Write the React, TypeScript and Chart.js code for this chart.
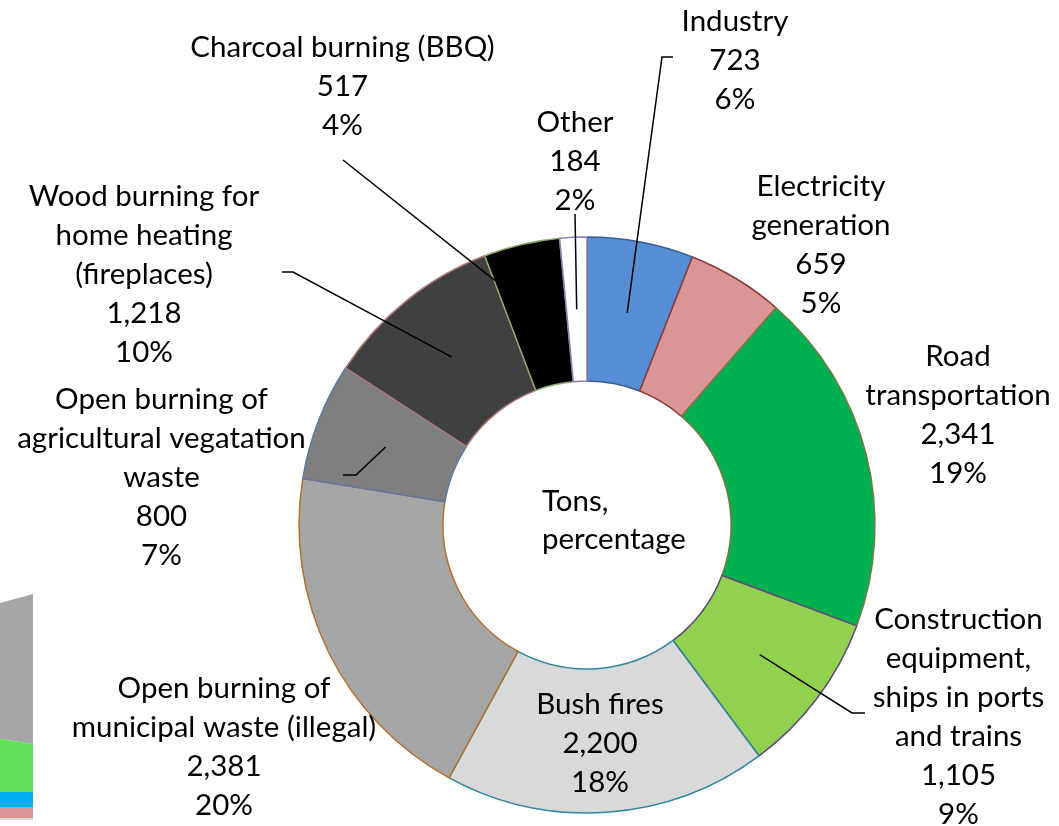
import React, { useEffect, useRef } from 'react';
import { Chart, registerables } from 'chart.js';

Chart.register(...registerables);

// ---------- Doughnut data ----------
const CATEGORIES = [
  'Industry',
  'Electricity generation',
  'Road transportation',
  'Construction equipment, ships in ports and trains',
  'Bush fires',
  'Open burning of municipal waste (illegal)',
  'Open burning of agricultural vegatation waste',
  'Wood burning for home heating (fireplaces)',
  'Charcoal burning (BBQ)',
  'Other',
];
const CATEGORY_LINES = [
  ['Industry'],
  ['Electricity', 'generation'],
  ['Road', 'transportation'],
  ['Construction', 'equipment,', 'ships in ports', 'and trains'],
  ['Bush fires'],
  ['Open burning of', 'municipal waste (illegal)'],
  ['Open burning of', 'agricultural vegatation', 'waste'],
  ['Wood burning for', 'home heating', '(fireplaces)'],
  ['Charcoal burning (BBQ)'],
  ['Other'],
];
const TONS = [723, 659, 2341, 1105, 2200, 2381, 800, 1218, 517, 184];
const CENTER_TEXT = ['Tons,', 'percentage'];

const FILL_COLORS = [
  '#558ED5', '#D99694', '#00B050', '#92D050', '#D9D9D9',
  '#A6A6A6', '#7F7F7F', '#404040', '#000000', '#FFFFFF',
];
const BORDER_COLORS = [
  '#3B5F8E', '#8C3B39', '#7A7A45', '#5F497A', '#31859C',
  '#B5702F', '#5A79A6', '#B07878', '#8FA870', '#8B7FAF',
];

// Label layout: offsets from the doughnut centre (px); leader points after the slice centroid
const LABEL_LAYOUT = [
  { x: 148, y: -505, leader: [[75, -468], [86, -468]] },
  { x: 234, y: -340, leader: [] },
  { x: 371, y: -170, leader: [] },
  { x: 371.5, y: 93, leader: [[265, 188], [278, 188]] },
  { x: 13, y: 178, leader: [] },
  { x: -363, y: 162, leader: [] },
  { x: -425.5, y: -127, leader: [[-231, -50], [-244, -50]] },
  { x: -443, y: -330, leader: [[-294, -253], [-305, -253]] },
  { x: -244.5, y: -479, leader: [[-244, -365]] },
  { x: -12, y: -404, leader: [[-12, -311]] },
];
const CENTER_TEXT_LAYOUT = { x: -45, y: -25 };

// ---------- Partial neighbouring chart (bottom-left fragment) ----------
const FRAG_X = [0, 1];
const FRAG_LIGHTGRAY = [2, 2];
const FRAG_PINK = [11, 11];
const FRAG_BLUE = [15, 15];
const FRAG_GREEN = [53, 48];
const FRAG_GRAY = [136, 150];
const FRAG_COLORS = ['#D9D9D9', '#D99694', '#00B0F0', '#63E05A', '#A6A6A6'];

const FONT_FAMILY = 'Lato, "Open Sans", sans-serif';
const FONT_SIZE = 29.5;
const LINE_H = 39;

const labelPlugin = {
  id: 'sliceLabels',
  afterDraw(chart: any) {
    const ctx = chart.ctx;
    const meta = chart.getDatasetMeta(0);
    const total = TONS.reduce((a, b) => a + b, 0);
    const first = meta.data[0];
    const cx = first.x;
    const cy = first.y;
    ctx.save();
    // leader lines
    ctx.strokeStyle = '#000';
    ctx.lineWidth = 1.5;
    LABEL_LAYOUT.forEach((lay, i) => {
      if (!lay.leader.length) return;
      const p = meta.data[i].tooltipPosition();
      ctx.beginPath();
      ctx.moveTo(p.x, p.y);
      lay.leader.forEach(([dx, dy]) => ctx.lineTo(cx + dx, cy + dy));
      ctx.stroke();
    });
    // labels
    ctx.fillStyle = '#000';
    ctx.font = `${FONT_SIZE}px ${FONT_FAMILY}`;
    ctx.textAlign = 'center';
    ctx.textBaseline = 'alphabetic';
    const capHalf = FONT_SIZE * 0.36;
    TONS.forEach((v, i) => {
      const lay = LABEL_LAYOUT[i];
      const lines = [
        ...CATEGORY_LINES[i],
        v.toLocaleString('en-US'),
        Math.round((v / total) * 100) + '%',
      ];
      lines.forEach((t, k) => {
        ctx.fillText(t, cx + lay.x, cy + lay.y + k * LINE_H + capHalf);
      });
    });
    ctx.textAlign = 'left';
    CENTER_TEXT.forEach((t, k) => {
      ctx.fillText(t, cx + CENTER_TEXT_LAYOUT.x, cy + CENTER_TEXT_LAYOUT.y + k * 38 + capHalf);
    });
    ctx.restore();
  },
};

export default function App() {
  const ref = useRef<HTMLCanvasElement | null>(null);
  const fragRef = useRef<HTMLCanvasElement | null>(null);

  useEffect(() => {
    if (!ref.current || !fragRef.current) return;
    const chart = new Chart(ref.current, {
      type: 'doughnut',
      data: {
        labels: CATEGORIES,
        datasets: [
          {
            data: TONS,
            backgroundColor: FILL_COLORS,
            borderColor: BORDER_COLORS,
            borderWidth: 1.5,
            hoverBorderWidth: 0,
          },
        ],
      },
      options: {
        responsive: false,
        animation: false,
        cutout: '50%',
        layout: { padding: { left: 298.25, right: 183.25, top: 236.25, bottom: 12.25 } },
        plugins: { legend: { display: false }, tooltip: { enabled: false } },
        events: [],
      },
      plugins: [labelPlugin],
    });

    const mk = (vals: number[], i: number) => ({
      data: FRAG_X.map((x, k) => ({ x, y: vals[k] })),
      backgroundColor: FRAG_COLORS[i],
      borderColor: 'rgba(0,0,0,0)',
      borderWidth: 0,
      pointRadius: 0,
      tension: 0,
      fill: i === 0 ? 'origin' : '-1',
    });
    const frag = new Chart(fragRef.current, {
      type: 'line',
      data: {
        datasets: [
          mk(FRAG_LIGHTGRAY, 0),
          mk(FRAG_PINK, 1),
          mk(FRAG_BLUE, 2),
          mk(FRAG_GREEN, 3),
          mk(FRAG_GRAY, 4),
        ],
      },
      options: {
        responsive: false,
        animation: false,
        layout: { padding: 0 },
        scales: {
          x: { type: 'linear', min: 0, max: 1, display: false },
          y: { min: 0, max: 226, stacked: true, display: false },
        },
        plugins: { legend: { display: false }, tooltip: { enabled: false } },
        events: [],
      },
    });
    return () => {
      chart.destroy();
      frag.destroy();
    };
  }, []);

  return (
    <div style={{ position: 'fixed', left: 0, top: 0, width: 1059, height: 826, background: '#fff' }}>
      <canvas ref={ref} width={1059} height={826} style={{ position: 'absolute', left: 0, top: 0 }} />
      <canvas ref={fragRef} width={33} height={226} style={{ position: 'absolute', left: 0, top: 594 }} />
    </div>
  );
}
